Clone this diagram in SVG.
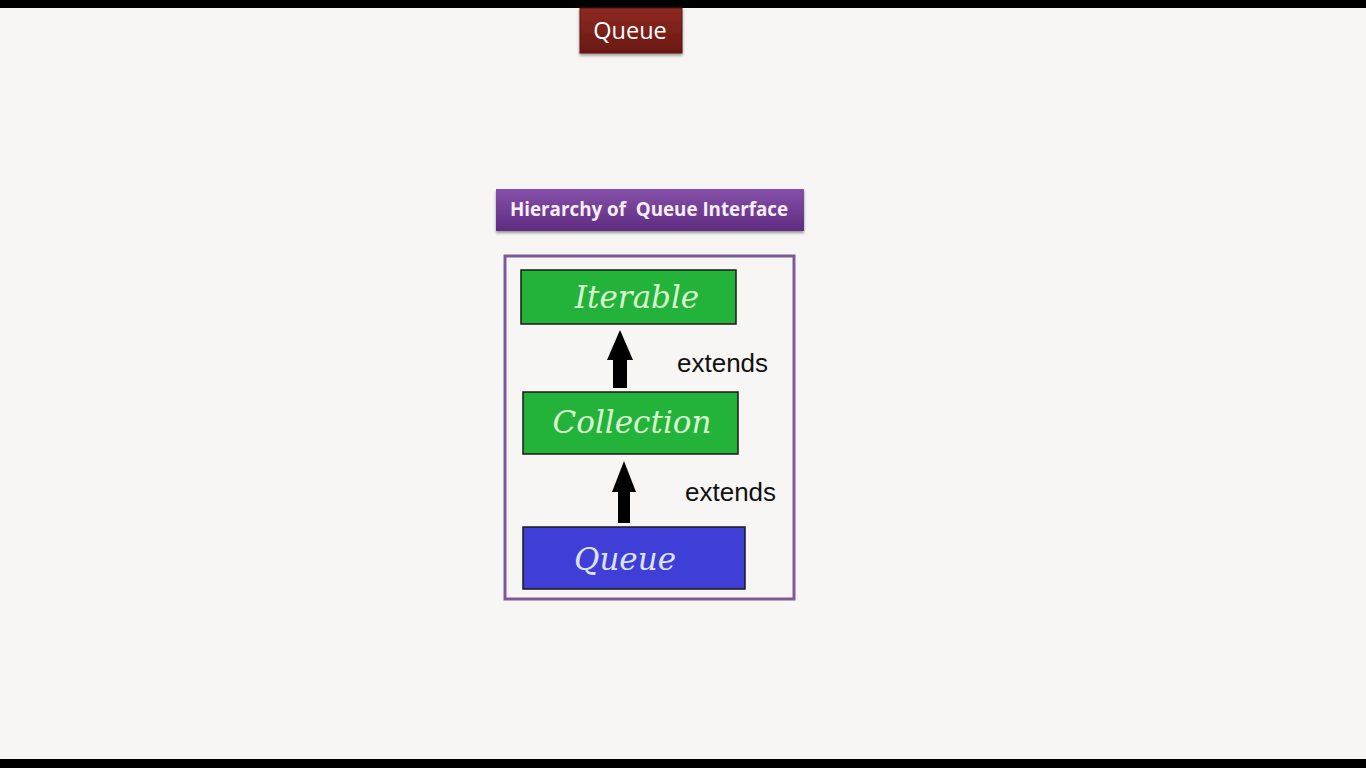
<svg xmlns="http://www.w3.org/2000/svg" width="1366" height="768" viewBox="0 0 1366 768">
<defs>
<linearGradient id="red" x1="0" y1="0" x2="0" y2="1"><stop offset="0" stop-color="#8e2a22"/><stop offset="1" stop-color="#6a1812"/></linearGradient>
<linearGradient id="purple" x1="0" y1="0" x2="0" y2="1"><stop offset="0" stop-color="#8550a8"/><stop offset="1" stop-color="#5e2c80"/></linearGradient>
<filter id="sh" x="-10%" y="-20%" width="120%" height="150%"><feDropShadow dx="0" dy="2" stdDeviation="1.5" flood-color="#000" flood-opacity="0.4"/></filter>
</defs>
<style>
.box{stroke:#1a1a1a;stroke-width:1.5}
.cur{font-family:"DejaVu Serif","Liberation Serif",serif;font-style:italic;font-size:31px;text-anchor:middle;fill:#d8f5d0}
.ext{font-family:"Liberation Sans",Arial,sans-serif;font-size:26px;fill:#111}
.shaft{fill:#000}
</style>
<rect width="1366" height="768" fill="#f7f6f5"/>
<rect x="0" y="0" width="1366" height="8" fill="#000"/>
<rect x="0" y="759" width="1366" height="9" fill="#000"/>
<g id="queue-title">
<rect x="580" y="8" width="102" height="45" fill="url(#red)" stroke="#5a120e" stroke-width="1" filter="url(#sh)"/>
<text x="630" y="39" font-family="'Open Sans','Noto Sans',sans-serif" font-size="23.5" fill="#fff" text-anchor="middle">Queue</text>
</g>
<g id="hierarchy-title">
<rect x="496" y="189" width="308" height="42" fill="url(#purple)" filter="url(#sh)"/>
<text x="649" y="216" font-family="'Open Sans','Noto Sans',sans-serif" font-weight="bold" font-size="18.8" fill="#f8eef8" text-anchor="middle" xml:space="preserve">Hierarchy of  Queue Interface</text>
</g>
<g id="frame">
<rect x="505" y="256" width="289" height="343" fill="none" stroke="#7e5a9a" stroke-width="3"/>
</g>
<g id="iterable">
<rect class="box" x="521" y="270" width="215" height="54" fill="#23b33a"/>
<text class="cur" x="637" y="308">Iterable</text>
</g>
<g id="collection">
<rect class="box" x="523" y="392" width="215" height="62" fill="#23b33a"/>
<text class="cur" x="632" y="433">Collection</text>
</g>
<g id="queue">
<rect class="box" x="523" y="527" width="222" height="62" fill="#3f3fd8"/>
<text class="cur" x="625" y="570" style="fill:#dde3ff">Queue</text>
</g>
<g id="connectors">
<rect class="shaft" x="613" y="358" width="14" height="30"/>
<path d="M620 330 L633 360 L607 360 Z" fill="#000"/>
<rect class="shaft" x="618" y="490" width="12" height="33"/>
<path d="M624 461 L636 492 L612 492 Z" fill="#000"/>
<text class="ext" x="677" y="372">extends</text>
<text class="ext" x="685" y="501">extends</text>
</g>
</svg>
